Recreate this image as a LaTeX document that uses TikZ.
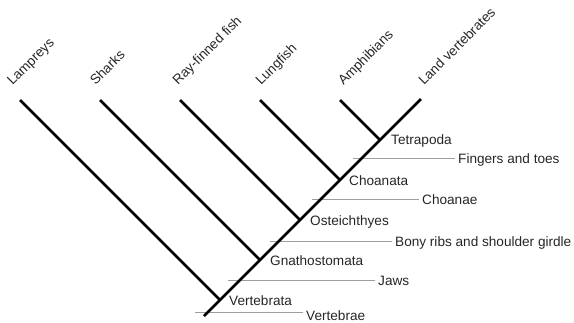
\documentclass[tikz,border=0pt]{standalone}
\usepackage{fontspec}
\setmainfont{Liberation Sans}
\usetikzlibrary{calc}

\begin{document}
\begin{tikzpicture}[
  x=1pt, y=-1pt,
  branch/.style={line width=2.8pt, line cap=butt},
  trait/.style={draw=black!38, line width=0.9pt, shorten >=3pt},
  lbl/.style={inner sep=0pt, text=black!85, font=\fontsize{13.6}{15}\selectfont},
  taxon/.style={lbl, rotate=45, anchor=base west},
  clade/.style={lbl, anchor=base west},
  feature/.style={lbl, anchor=base west}
]
\useasboundingbox (0,0) rectangle (574,322);

% ---------------------------------------------------------------------------
% Branching points on the main spine
% ---------------------------------------------------------------------------
\coordinate (root) at (204,316);
\coordinate (vert) at (220,300);
\coordinate (gnath) at (260,260);
\coordinate (oste) at (300,220);
\coordinate (choan) at (340,180);
\coordinate (tetra) at (380,140);
\coordinate (land) at (421,99);

% Tips of the side branches
\coordinate (lamp) at (20,100);
\coordinate (shark) at (100,100);
\coordinate (ray) at (180,100);
\coordinate (lung) at (260,100);
\coordinate (amph) at (340,100);

% ---------------------------------------------------------------------------
% Taxa at the tips
% ---------------------------------------------------------------------------
\node[taxon] (lampL) at (12.5,86) {Lampreys};
\node[taxon] (sharkL) at (95.5,86) {Sharks};
\node[taxon] (rayL) at (178,86) {Ray-finned fish};
\node[taxon] (lungL) at (261,86) {Lungfish};
\node[taxon] (amphL) at (343.5,86) {Amphibians};
\node[taxon] (landL) at (424,86) {Land vertebrates};

% ---------------------------------------------------------------------------
% Clade names beside the branching points
% ---------------------------------------------------------------------------
\node[clade] (vertL) at ($(vert)+(9,5)$) {Vertebrata};
\node[clade] (gnathL) at ($(gnath)+(10,5)$) {Gnathostomata};
\node[clade] (osteL) at ($(oste)+(10,5)$) {Osteichthyes};
\node[clade] (choanL) at ($(choan)+(9,5)$) {Choanata};
\node[clade] (tetraL) at ($(tetra)+(11,4)$) {Tetrapoda};

% ---------------------------------------------------------------------------
% Shared derived characters
% ---------------------------------------------------------------------------
\node[feature] (vbL) at (306,320) {Vertebrae};
\node[feature] (jawL) at (378,285) {Jaws};
\node[feature] (ribL) at (395,246) {Bony ribs and shoulder girdle};
\node[feature] (chL) at (422,204) {Choanae};
\node[feature] (fingL) at (458,163) {Fingers and toes};

\coordinate (vbS) at (195,312.7);
\coordinate (jawS) at (228,280);
\coordinate (ribS) at (270,241);
\coordinate (chS) at (311.7,199);
\coordinate (fingS) at (353.3,158);

\draw[trait] (vbS) -- (vbS -| vbL.west);
\draw[trait] (jawS) -- (jawS -| jawL.west);
\draw[trait] (ribS) -- (ribS -| ribL.west);
\draw[trait] (chS) -- (chS -| chL.west);
\draw[trait] (fingS) -- (fingS -| fingL.west);

% ---------------------------------------------------------------------------
% Tree
% ---------------------------------------------------------------------------
\draw[branch] (root) -- (land);
\draw[branch] (vert) -- (lamp);
\draw[branch] (gnath) -- (shark);
\draw[branch] (oste) -- (ray);
\draw[branch] (choan) -- (lung);
\draw[branch] (tetra) -- (amph);

\end{tikzpicture}
\end{document}
